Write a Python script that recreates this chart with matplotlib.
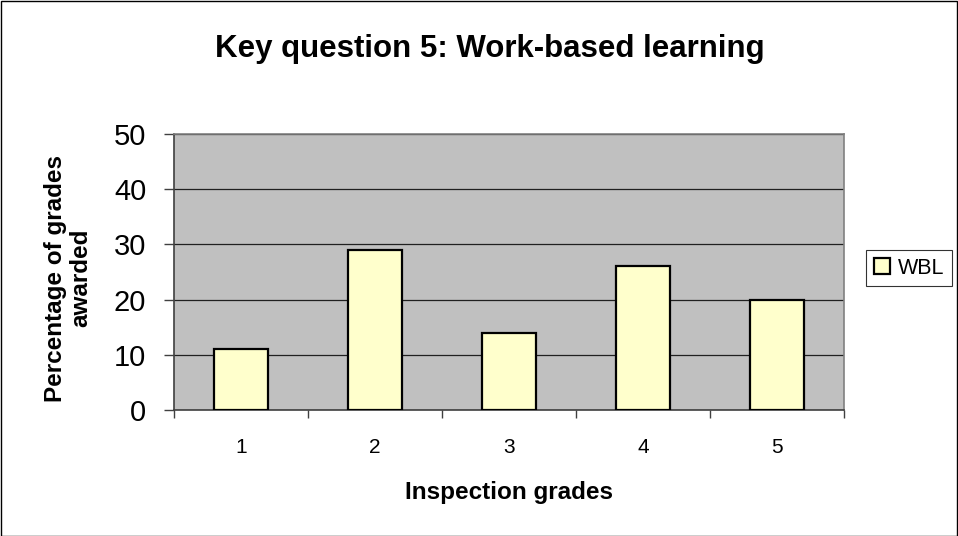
import matplotlib
matplotlib.use("Agg")
import matplotlib.pyplot as plt
import numpy as np

plt.rcParams['font.family'] = ['Liberation Sans', 'DejaVu Sans']

grades = ['1', '2', '3', '4', '5']
wbl = [11, 29, 14, 26, 20]

fig = plt.figure(figsize=(9.58, 5.36), dpi=100)
W, H = 958, 536
ax = fig.add_axes([174 / W, 1 - 410 / H, (844 - 174) / W, (410 - 134) / H])

x = np.arange(len(grades))
ax.bar(x, wbl, width=0.41, color='#FFFFCC', edgecolor='black', linewidth=1.6,
       label='WBL', zorder=3)

ax.set_facecolor('#C0C0C0')
ax.set_xlim(-0.5, len(grades) - 0.5)
ax.set_ylim(0, 50)
ax.set_yticks(range(0, 51, 10))
ax.yaxis.grid(True, color='#202020', linewidth=0.9, zorder=1)
ax.set_axisbelow(True)

ax.set_xticks(x)
ax.set_xticklabels(grades)
ax.set_xticks(np.arange(-0.5, len(grades)), minor=True)
ax.tick_params(axis='x', which='major', length=0, pad=20, labelsize=15)
ax.tick_params(axis='x', which='minor', length=6, width=1, color='#404040')
ax.tick_params(axis='y', labelsize=21, length=7, width=1, color='#404040', pad=13)

for s in ['top', 'right']:
    ax.spines[s].set_color('#808080')
    ax.spines[s].set_linewidth(1.2)
for s in ['left', 'bottom']:
    ax.spines[s].set_color('#404040')
    ax.spines[s].set_linewidth(1.2)

ax.set_xlabel('Inspection grades', fontsize=17.5, fontweight='bold', va='center')
ax.xaxis.set_label_coords(0.5, (410 - 493) / 276)
ax.set_ylabel('Percentage of grades\nawarded', fontsize=17.5, fontweight='bold',
              va='center', linespacing=1.15)
ax.yaxis.set_label_coords((68 - 174) / 670, (410 - 278) / 276)

fig.text(490 / W, 1 - 57 / H, 'Key question 5: Work-based learning',
         fontsize=22.5, fontweight='bold', ha='center', va='baseline')

leg = fig.legend(loc='upper left', bbox_to_anchor=(866 / W, 1 - 250 / H),
                 fontsize=15.5, frameon=True, fancybox=False, edgecolor='black',
                 handlelength=0.75, handleheight=0.75, handletextpad=0.4,
                 borderpad=0.35, borderaxespad=0)
leg.get_frame().set_linewidth(0.8)

fig.patches.append(plt.Rectangle((0.5 / W, 0.5 / H), 1 - 1.5 / W, 1 - 1.5 / H,
                                 transform=fig.transFigure, fill=False,
                                 edgecolor='black', linewidth=1))

fig.savefig('out.png', dpi=100)
